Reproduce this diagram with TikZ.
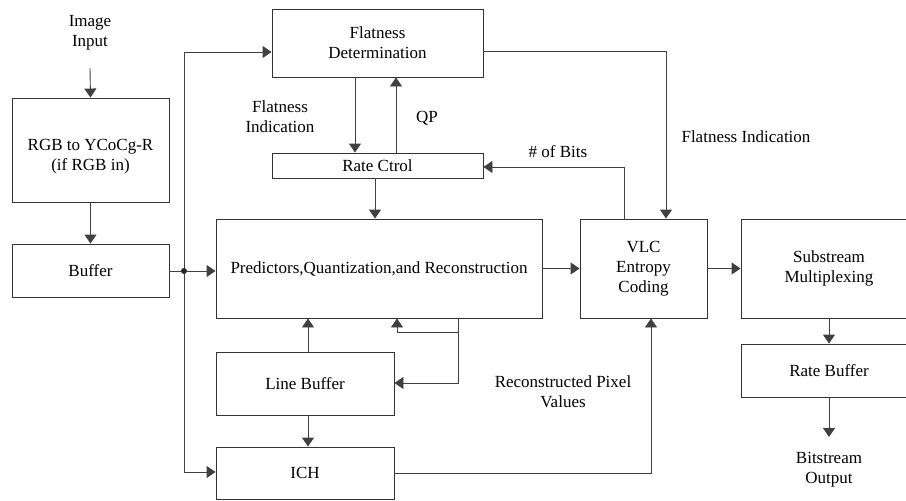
\documentclass[tikz,border=0pt]{standalone}
\usepackage{fontspec}
\setmainfont{Liberation Serif}
\usetikzlibrary{arrows.meta}
\begin{document}
\begin{tikzpicture}[x=1pt,y=-1pt,
  font=\fontsize{17}{20}\selectfont,
  blk/.style={draw=black!80,line width=0.9pt,inner sep=0pt,align=center},
  wire/.style={draw=black!75,line width=0.9pt},
  arr/.style={wire,-{Triangle[length=9pt,width=12pt]}},
  lbl/.style={align=center,inner sep=0pt}]
\useasboundingbox (0,0) rectangle (906,501);
\clip (0,0) rectangle (906,501);

% blocks
\node[blk,minimum width=157pt,minimum height=104pt] (rgb) at (90.5,150) {};
\node[lbl] at (90.5,157) {RGB to YCoCg-R\\(if RGB in)};
\node[blk,minimum width=157pt,minimum height=53pt] (buf) at (90.5,270.5) {Buffer};
\node[blk,minimum width=211pt,minimum height=68pt] (flat) at (377.5,43) {Flatness\\Determination};
\node[blk,minimum width=211pt,minimum height=25pt] (rate) at (377.5,165.5) {Rate Ctrol};
\node[blk,minimum width=326pt,minimum height=99pt] (pred) at (379,268.5) {Predictors,Quantization,and Reconstruction};
\node[blk,minimum width=127pt,minimum height=99pt] (vlc) at (643.5,268.5) {VLC\\Entropy\\Coding};
\node[blk,minimum width=176pt,minimum height=99pt] (sub) at (829,268.5) {Substream\\Multiplexing};
\node[blk,minimum width=176pt,minimum height=53pt] (rbuf) at (829,370.5) {Rate Buffer};
\node[blk,minimum width=178pt,minimum height=63pt] (lbuf) at (305,383.5) {Line Buffer};
\node[blk,minimum width=178pt,minimum height=52pt] (ich) at (305,473) {ICH};

% labels
\node[lbl] (inlbl) at (90,33) {Image\\Input};
\node[lbl] (outlbl) at (829,470) {Bitstream\\Output};
\node[lbl] at (280,117) {Flatness\\Indication};
\node[lbl] at (427,118) {QP};
\node[lbl] at (746,137) {Flatness Indication};
\node[lbl] at (558,152) {\# of Bits};
\node[lbl] at (563,392) {Reconstructed Pixel\\Values};

% helper coordinates
\coordinate (inTop) at (90,68);
\coordinate (outEnd) at (829,437);
\coordinate (dot) at (184,271);
\coordinate (busTop) at (184,52);
\coordinate (busBot) at (184,472);
\coordinate (xA) at (355,0);
\coordinate (xB) at (396,0);
\coordinate (xC) at (375,0);
\coordinate (xD) at (666,51);
\coordinate (xE) at (624,167);
\coordinate (xF) at (458,332);
\coordinate (xF2) at (458,383);
\coordinate (xG) at (397,332);
\coordinate (xH) at (308,0);
\coordinate (xI) at (651,473);

% connectors
\draw[arr] (inTop) -- (rgb.north);
\draw[arr] (rgb.south) -- (buf.north);
\draw[wire] (buf.east |- dot) -- (dot);
\draw[arr] (dot) -- (pred.west |- dot);
\draw[wire] (busTop) -- (busBot);
\draw[arr] (busTop) -- (flat.west |- busTop);
\draw[arr] (busBot) -- (ich.west |- busBot);
\fill[black!85] (dot) circle (3pt);

\draw[arr] (flat.south -| xA) -- (rate.north -| xA);
\draw[arr] (rate.north -| xB) -- (flat.south -| xB);
\draw[arr] (rate.south -| xC) -- (pred.north -| xC);
\draw[arr] (flat.east |- xD) -- (xD) -- (vlc.north -| xD);
\draw[arr] (vlc.north -| xE) -- (xE) -- (rate.east |- xE);

\draw[arr] (pred.east |- vlc.center) -- (vlc.west |- vlc.center);
\draw[arr] (vlc.east |- vlc.center) -- (sub.west |- vlc.center);
\draw[arr] (sub.south) -- (rbuf.north);
\draw[arr] (rbuf.south) -- (outEnd);

\draw[arr] (pred.south -| xF) -- (xF2) -- (lbuf.east |- xF2);
\draw[arr] (xF) -- (xG) -- (pred.south -| xG);
\draw[arr] (lbuf.north -| xH) -- (pred.south -| xH);
\draw[arr] (lbuf.south -| xH) -- (ich.north -| xH);
\draw[arr] (ich.east |- xI) -- (xI) -- (vlc.south -| xI);
\end{tikzpicture}
\end{document}
